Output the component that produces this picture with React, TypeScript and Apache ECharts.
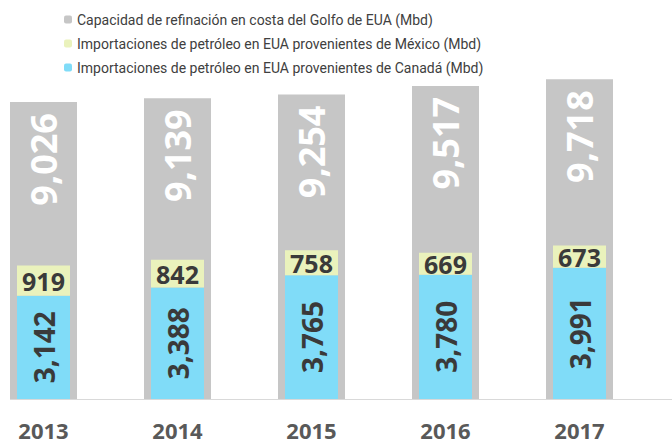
import React, { useEffect, useRef } from "react";
import * as echarts from "echarts";

const years = ["2013", "2014", "2015", "2016", "2017"];
const refiningCapacity = [9026, 9139, 9254, 9517, 9718];
const mexicoImports = [919, 842, 758, 669, 673];
const canadaImports = [3142, 3388, 3765, 3780, 3991];

const seriesNames = [
  "Capacidad de refinación en costa del Golfo de EUA (Mbd)",
  "Importaciones de petróleo en EUA provenientes de México (Mbd)",
  "Importaciones de petróleo en EUA provenientes de Canadá (Mbd)",
];

const fmt = (v: number) => v.toLocaleString("en-US");

export default function App() {
  const ref = useRef<HTMLDivElement>(null);
  useEffect(() => {
    if (!ref.current) return;
    const chart = echarts.init(ref.current, undefined, { renderer: "svg" });
    chart.setOption({
      animation: false,
      backgroundColor: "#ffffff",
      textStyle: { fontFamily: "'Open Sans', sans-serif" },
      legend: {
        orient: "vertical",
        left: 64,
        top: 11,
        padding: 0,
        itemWidth: 8,
        itemHeight: 8,
        itemGap: 7,
        data: [seriesNames[0], seriesNames[1], seriesNames[2]],
        textStyle: {
          fontFamily: "Roboto, sans-serif",
          fontSize: 14,
          lineHeight: 17,
          color: "#404040",
        },
      },
      grid: { left: 43.5, right: 92.5, top: 70, bottom: 47 },
      xAxis: [
        {
          type: "category",
          data: years,
          boundaryGap: false,
          axisLine: { show: false },
          axisTick: { show: false },
          axisLabel: {
            margin: 21,
            fontSize: 22,
            lineHeight: 20,
            fontWeight: "bold",
            color: "#595959",
            fontFamily: "'Open Sans', sans-serif",
          },
        },
        {
          type: "category",
          data: years,
          boundaryGap: false,
          show: false,
        },
      ],
      yAxis: { type: "value", min: 0, max: 10000, show: false },
      graphic: [
        {
          type: "line",
          shape: { x1: 10, y1: 399.5, x2: 672, y2: 399.5 },
          style: { stroke: "#d9d9d9", lineWidth: 1 },
          z: 0,
        },
      ],
      series: [
        {
          name: seriesNames[0],
          type: "bar",
          xAxisIndex: 1,
          barWidth: 67,
          clip: false,
          z: 1,
          data: refiningCapacity,
          itemStyle: { color: "#c6c6c6" },
          label: {
            show: true,
            position: "insideTop",
            distance: 11,
            rotate: 90,
            align: "right",
            verticalAlign: "middle",
            fontSize: 36,
            fontWeight: "bold",
            color: "#ffffff",
            fontFamily: "'Open Sans', sans-serif",
            formatter: (p: any) => fmt(p.value),
          },
        },
        {
          name: seriesNames[2],
          type: "bar",
          xAxisIndex: 0,
          stack: "imp",
          barWidth: 53,
          clip: false,
          z: 2,
          data: canadaImports,
          itemStyle: { color: "#80dcf8" },
          label: {
            show: true,
            position: "inside",
            rotate: 90,
            align: "center",
            verticalAlign: "middle",
            fontSize: 28,
            fontWeight: "bold",
            color: "#3a3a3a",
            fontFamily: "'Open Sans', sans-serif",
            formatter: (p: any) => fmt(p.value),
          },
        },
        {
          name: seriesNames[1],
          type: "bar",
          xAxisIndex: 0,
          stack: "imp",
          barWidth: 53,
          clip: false,
          z: 2,
          data: mexicoImports,
          itemStyle: { color: "#eaf2bc" },
          label: {
            show: true,
            position: "inside",
            fontSize: 25,
            fontWeight: "bold",
            color: "#3a3a3a",
            fontFamily: "'Open Sans', sans-serif",
            formatter: (p: any) => fmt(p.value),
          },
        },
      ],
    });
    return () => chart.dispose();
  }, []);
  return (
    <div
      ref={ref}
      style={{ position: "fixed", left: 0, top: 0, width: 672, height: 446 }}
    />
  );
}
